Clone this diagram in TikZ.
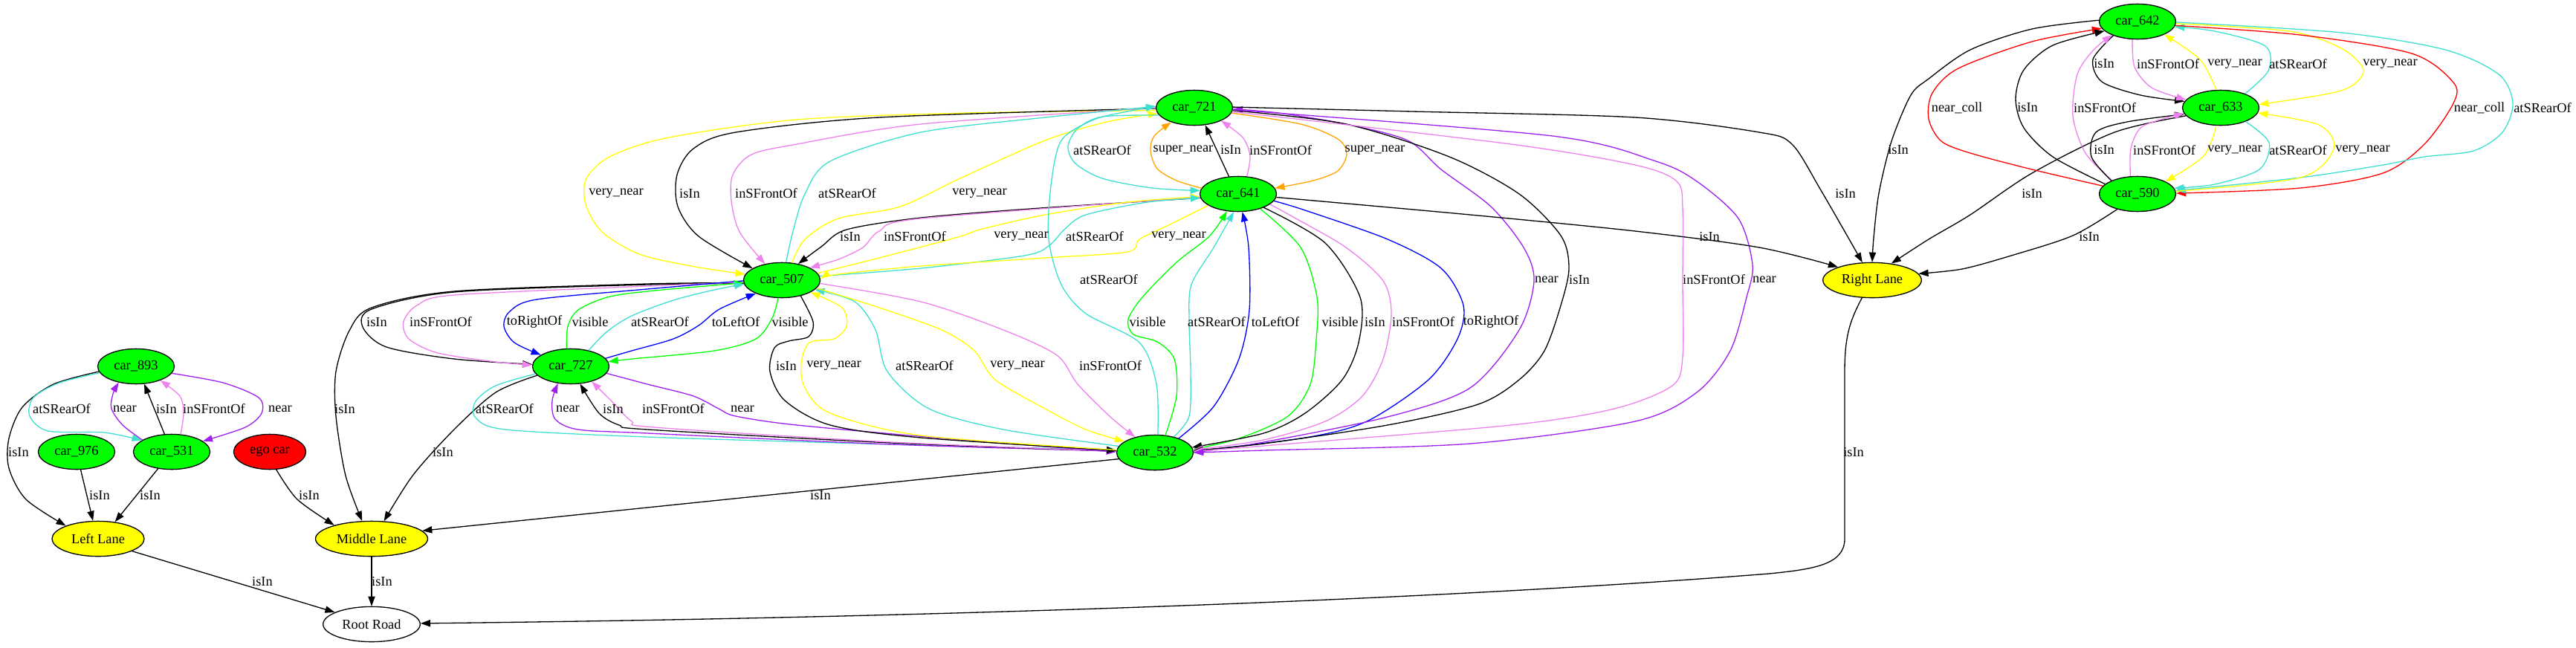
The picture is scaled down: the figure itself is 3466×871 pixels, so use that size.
\documentclass[tikz,border=0pt]{standalone}
\usepackage{fontspec}
\setmainfont{Liberation Serif}
\usetikzlibrary{shapes.geometric, arrows.meta}
\definecolor{gvgreen}{HTML}{00FF00}
\definecolor{gvyellow}{HTML}{FFFF00}
\definecolor{gvred}{HTML}{FF0000}
\definecolor{cturq}{HTML}{40E0D0}
\definecolor{cviol}{HTML}{EE82EE}
\definecolor{cpurp}{HTML}{A020F0}
\definecolor{corang}{HTML}{FFA500}
\definecolor{cblue}{HTML}{0000FF}
\tikzset{
  gvnode/.style={ellipse, draw=black, line width=1pt, minimum height=36pt, inner sep=0pt, font=\fontsize{14pt}{16pt}\selectfont},
  car/.style={gvnode, fill=gvgreen, minimum width=78.5pt},
  lane/.style={gvnode, fill=gvyellow},
  lbl/.style={inner sep=0pt, font=\fontsize{14pt}{16pt}\selectfont},
  edg/.style={line width=1pt, -{Triangle[length=10pt,width=7pt]}},
  ekk/.style={edg, color=black},
  etq/.style={edg, color=cturq},
  evi/.style={edg, color=cviol},
  epu/.style={edg, color=cpurp},
  eye/.style={edg, color=gvyellow},
  eor/.style={edg, color=corang},
  ebl/.style={edg, color=cblue},
  egr/.style={edg, color=gvgreen},
  ere/.style={edg, color=gvred},
}
\begin{document}
\begin{tikzpicture}[x=0.762pt, y=-0.762pt]
\useasboundingbox (0,0) rectangle (3466,871);
% nodes
\node[car] (c893) at (183,493) {car\_893};
\node[car] (c976) at (103,608) {car\_976};
\node[car] (c531) at (231,608) {car\_531};
\node[car, fill=gvred, minimum width=74pt] (ego) at (363,608) {ego car};
\node[lane, minimum width=94.5pt] (LL) at (132,725) {Left Lane};
\node[lane, minimum width=115pt] (ML) at (500,725) {Middle Lane};
\node[lane, fill=white, minimum width=99.5pt] (RR) at (500,840) {Root Road};
\node[car] (c727) at (768,493) {car\_727};
\node[car] (c507) at (1052,377) {car\_507};
\node[car] (c721) at (1607,145) {car\_721};
\node[car] (c641) at (1666,261) {car\_641};
\node[car] (c532) at (1554,609) {car\_532};
\node[lane, minimum width=101pt] (RL) at (2519,377) {Right Lane};
\node[car] (c642) at (2876,29) {car\_642};
\node[car] (c633) at (2988,145) {car\_633};
\node[car] (c590) at (2876,261) {car\_590};

% left cluster
\draw[ekk] plot[smooth] coordinates {(c893.188) (72,517) (30,548) (12,590) (12,630) (35,672) (LL.158)};
\draw[ekk] (c976.283) -- (LL.106);
\draw[ekk] (c531.231) -- (LL.45);
\draw[ekk] (c531.112) -- (c893.295);
\draw[epu] plot[smooth] coordinates {(c531.158) (165,572) (150,550) (152,530) (c893.223)};
\draw[evi] plot[smooth] coordinates {(c531.63) (247,556) (242,533) (c893.330)};
\draw[etq] plot[smooth] coordinates {(c893.190) (80,515) (45,535) (40,560) (65,580) (140,582) (c531.159)};
\draw[epu] plot[smooth] coordinates {(c893.349) (300,515) (348,535) (352,556) (330,575) (c531.19)};
\draw[ekk] plot[smooth] coordinates {(ego.290) (400,672) (ML.160)};

% into Middle Lane
\draw[ekk] plot[smooth] coordinates {(c507.184) (871,382) (611,392) (500,414) (470,445) (452,500) (452,560) (465,640) (ML.118)};
\draw[ekk] plot[smooth] coordinates {(c727.195) (667,528) (611,578) (556,639) (ML.55)};
\draw[ekk] (c532.190) -- (ML.9);

% into Root Road
\draw[ekk] (LL.340) -- (RR.162);
\draw[ekk] (ML.270) -- (RR.90);
\draw[ekk] (RL.240) .. controls (2490,430) and (2482,450) .. (2482,500) -- (2482,725)
  .. controls (2482,760) and (2440,766) .. (2380,772)
  .. controls (1900,810) and (1200,832) .. (RR.1);

% car_507 <-> car_727
\draw[ekk] plot[smooth] coordinates {(c507.185) (871,383) (611,393) (500,416) (488,440) (520,467) (611,483) (c727.177)};
\draw[evi] plot[smooth] coordinates {(c507.183) (871,385) (611,397) (561,411) (543,433) (550,456) (589,475) (667,487) (c727.178)};
\draw[ebl] plot[smooth] coordinates {(c507.181) (871,389) (722,403) (686,419) (678,439) (692,461) (c727.159)};
\draw[egr] plot[smooth] coordinates {(c727.103) (764,439) (778,417) (817,400) (871,392) (c507.184)};
\draw[etq] plot[smooth] coordinates {(c727.42) (817,446) (850,425) (906,404) (961,390) (c507.186)};
\draw[ebl] plot[smooth] coordinates {(c727.13) (850,472) (906,456) (940,438) (968,416) (c507.207)};
\draw[egr] plot[smooth] coordinates {(c507.258) (1039,428) (1017,456) (961,472) (850,483) (c727.7)};

% car_727 <-> car_532
\draw[etq] plot[smooth] coordinates {(c727.192) (667,519) (640,540) (640,562) (680,578) (871,588) (1200,598) (c532.176)};
\draw[epu] plot[smooth] coordinates {(c532.178) (1200,598) (871,583) (778,578) (747,564) (743,539) (c727.233)};
\draw[ekk] plot[smooth] coordinates {(c532.178) (1200,596) (871,578) (833,572) (806,556) (c727.298)};
\draw[evi] plot[smooth] coordinates {(c532.178) (1200,595) (880,575) (850,567) (822,539) (c727.324)};
\draw[epu] plot[smooth] coordinates {(c727.349) (871,517) (933,533) (967,550) (990,560) (1072,572) (1294,592) (c532.179)};

% car_507 <-> car_532
\draw[ekk] plot[smooth] coordinates {(c507.320) (1094,433) (1088,453) (1061,459) (1042,468) (1036,500) (1056,539) (1117,572) (1239,589) (c532.177)};
\draw[eye] plot[smooth] coordinates {(c532.176) (1239,586) (1117,556) (1083,522) (1078,489) (1089,461) (1122,456) (1139,439) (1133,414) (c507.337)};
\draw[etq] plot[smooth] coordinates {(c532.170) (1350,578) (1250,550) (1194,500) (1178,444) (1150,406) (c507.344)};
\draw[eye] plot[smooth] coordinates {(c507.347) (1183,414) (1267,444) (1311,472) (1339,511) (1406,550) (1461,578) (c532.160)};
\draw[evi] plot[smooth] coordinates {(c507.355) (1239,406) (1350,444) (1422,478) (1450,517) (1494,561) (c532.142)};

% car_721 <-> car_507
\draw[eye] plot[smooth] coordinates {(c721.184) (1300,152) (1072,161) (900,185) (822,210) (789,240) (788,275) (810,312) (860,342) (930,358) (c507.171)};
\draw[ekk] plot[smooth] coordinates {(c721.181) (1183,158) (990,178) (933,200) (911,235) (912,278) (940,318) (c507.158)};
\draw[evi] plot[smooth] coordinates {(c721.180) (1239,167) (1072,194) (1011,208) (986,235) (984,270) (995,312) (c507.136)};
\draw[etq] plot[smooth] coordinates {(c507.77) (1067,311) (1083,261) (1117,217) (1239,178) (1406,158) (c721.178)};
\draw[eye] plot[smooth] coordinates {(c507.60) (1083,322) (1128,294) (1211,278) (1294,239) (1406,189) (1489,164) (c721.189)};

% car_641 <-> car_507
\draw[ekk] plot[smooth] coordinates {(c641.186) (1400,280) (1239,293) (1139,309) (1105,332) (c507.45)};
\draw[evi] plot[smooth] coordinates {(c641.185) (1239,294) (1183,311) (1161,333) (1128,349) (c507.24)};
\draw[eye] plot[smooth] coordinates {(c507.11) (1183,347) (1289,319) (1322,308) (1406,289) (1517,272) (c641.184)};
\draw[etq] plot[smooth] coordinates {(c507.6) (1239,361) (1378,344) (1411,331) (1433,308) (1461,289) (1544,272) (c641.186)};
\draw[eye] plot[smooth] coordinates {(c641.201) (1572,303) (1533,322) (1517,339) (1406,347) (1239,358) (1128,369) (c507.2)};

% car_721 <-> car_641
\draw[etq] plot[smooth] coordinates {(c721.192) (1483,157) (1450,173) (1437,197) (1447,220) (1483,240) (1550,253) (c641.175)};
\draw[eor] plot[smooth] coordinates {(c641.171) (1583,243) (1557,227) (1548,203) (1553,183) (c721.212)};
\draw[ekk] (c641.118) -- (c721.302);
\draw[evi] plot[smooth] coordinates {(c641.64) (1682,210) (1672,185) (c721.334)};
\draw[eor] plot[smooth] coordinates {(c721.352) (1750,167) (1800,187) (1812,207) (1800,230) (1767,243) (c641.9)};

% car_532 -> car_721
\draw[etq] plot[smooth] coordinates {(c532.81) (1556,517) (1533,461) (1461,422) (1428,383) (1411,322) (1414,250) (1428,189) (1472,161) (1517,150) (c721.178)};

% car_532 <-> car_641
\draw[egr] plot[smooth] coordinates {(c532.59) (1583,533) (1580,483) (1557,460) (1525,450) (1518,430) (1537,400) (1583,353) (1627,318) (c641.237)};
\draw[etq] plot[smooth] coordinates {(c532.40) (1600,560) (1602,500) (1600,433) (1603,383) (1633,333) (c641.256)};
\draw[ebl] plot[smooth] coordinates {(c532.31) (1633,547) (1667,483) (1681,417) (1680,333) (c641.283)};
\draw[egr] plot[smooth] coordinates {(c641.326) (1750,333) (1772,400) (1771,457) (1763,517) (1733,560) (1667,590) (c532.5)};
\draw[ekk] plot[smooth] coordinates {(c641.332) (1783,327) (1830,400) (1828,461) (1806,511) (1756,556) (1700,583) (c532.8)};
\draw[evi] plot[smooth] coordinates {(c641.342) (1740,292) (1811,333) (1861,378) (1872,422) (1861,483) (1833,533) (1783,567) (1700,592) (c532.4)};
\draw[ebl] plot[smooth] coordinates {(c641.349) (1756,283) (1867,322) (1939,361) (1969,411) (1961,456) (1922,511) (1839,567) (1756,589) (c532.2)};

% car_721 <-> car_532 (right side)
\draw[epu] plot[smooth] coordinates {(c532.0) (1700,595) (1867,561) (1978,522) (2044,444) (2064,378) (2050,333) (2006,278) (1939,228) (1894,189) (1811,167) (1720,152) (c721.358)};
\draw[ekk] plot[smooth] coordinates {(c721.356) (1811,167) (1950,211) (2044,261) (2100,317) (2111,361) (2100,411) (2078,472) (2044,511) (1989,544) (1867,572) (1700,597) (c532.3)};
\draw[evi] plot[smooth] coordinates {(c721.354) (2033,194) (2200,222) (2256,244) (2264,280) (2264,380) (2264,480) (2250,519) (2172,550) (2033,572) (1700,600) (c532.2)};
\draw[epu] plot[smooth] coordinates {(c721.357) (2089,183) (2228,217) (2283,244) (2339,294) (2358,356) (2350,400) (2328,472) (2283,528) (2200,567) (1978,597) (1700,606) (c532.0)};

% into Right Lane
\draw[ekk] plot[smooth] coordinates {(c721.1) (1900,150) (2200,158) (2367,178) (2411,194) (2450,256) (RL.119)};
\draw[ekk] plot[smooth] coordinates {(c641.355) (1978,289) (2200,311) (2367,333) (RL.159)};
\draw[ekk] plot[smooth] coordinates {(c642.178) (2734,39) (2651,67) (2595,106) (2571,128) (2545,190) (2528,260) (2521,320) (RL.90)};
\draw[ekk] plot[smooth] coordinates {(c633.193) (2845,178) (2734,233) (2651,289) (2595,322) (RL.41)};
\draw[ekk] plot[smooth] coordinates {(c590.217) (2789,317) (2706,344) (2640,362) (RL.8)};

% right cluster
\draw[ekk] plot[smooth] coordinates {(c642.210) (2816,80) (2828,110) (2880,128) (c633.170)};
\draw[evi] plot[smooth] coordinates {(c642.254) (2872,90) (2895,118) (c633.167)};
\draw[eye] plot[smooth] coordinates {(c633.104) (2960,80) (c642.334)};
\draw[etq] plot[smooth] coordinates {(c633.30) (3052,95) (3048,62) (2980,42) (c642.352)};
\draw[eye] plot[smooth] coordinates {(c642.357) (3080,42) (3150,65) (3180,95) (3150,122) (c633.5)};
\draw[ere] plot[smooth] coordinates {(c590.167) (2734,228) (2651,206) (2612,190) (2595,160) (2600,125) (2635,92) (2734,56) (c642.191)};
\draw[ere] plot[smooth] coordinates {(c642.354) (3095,47) (3245,72) (3301,111) (3301,139) (3262,194) (3206,233) (3095,253) (c590.1)};
\draw[ekk] plot[smooth] coordinates {(c590.163) (2762,211) (2723,172) (2712,133) (2723,94) (2762,61) (c642.196)};
\draw[evi] plot[smooth] coordinates {(c590.152) (2806,206) (2789,156) (2795,100) (2817,67) (c642.208)};
\draw[etq] plot[smooth] coordinates {(c642.359) (3151,44) (3290,67) (3362,100) (3381,139) (3367,178) (3328,203) (3262,211) (3206,222) (3095,239) (c590.5)};
\draw[ekk] plot[smooth] coordinates {(c590.153) (2814,211) (2820,178) (2862,164) (c633.190)};
\draw[evi] plot[smooth] coordinates {(c590.112) (2867,200) (2880,172) (2910,160) (c633.189)};
\draw[eye] plot[smooth] coordinates {(c633.256) (2965,210) (c590.24)};
\draw[etq] plot[smooth] coordinates {(c633.331) (3053,192) (3040,228) (2980,248) (c590.9)};
\draw[eye] plot[smooth] coordinates {(c590.4) (3095,239) (3140,200) (3120,168) (c633.352)};

% labels
\node[lbl] (l01) at (25,608) {isIn};
\node[lbl] (l02) at (134,666) {isIn};
\node[lbl] (l03) at (202,666) {isIn};
\node[lbl] (l04) at (224,550) {isIn};
\node[lbl] (l05) at (168,550) {near};
\node[lbl] (l06) at (288,550) {inSFrontOf};
\node[lbl] (l07) at (83,550) {atSRearOf};
\node[lbl] (l08) at (377,550) {near};
\node[lbl] (l09) at (416,666) {isIn};
\node[lbl] (l10) at (464,550) {isIn};
\node[lbl] (l11) at (596,608) {isIn};
\node[lbl] (l12) at (1104,666) {isIn};
\node[lbl] (l13) at (353,782) {isIn};
\node[lbl] (l14) at (514,782) {isIn};
\node[lbl] (l15) at (2494,608) {isIn};
% row 433
\node[lbl] (l16) at (507,433) {isIn};
\node[lbl] (l17) at (593,433) {inSFrontOf};
\node[lbl] (l18) at (719,433) {toRightOf};
\node[lbl] (l19) at (794,433) {visible};
\node[lbl] (l20) at (888,433) {atSRearOf};
\node[lbl] (l21) at (990,433) {toLeftOf};
\node[lbl] (l22) at (1063,433) {visible};
\node[lbl] (l23) at (1544,433) {visible};
\node[lbl] (l24) at (1637,433) {atSRearOf};
\node[lbl] (l25) at (1716,433) {toLeftOf};
\node[lbl] (l26) at (1803,433) {visible};
\node[lbl] (l27) at (1850,433) {isIn};
\node[lbl] (l28) at (1915,433) {inSFrontOf};
\node[lbl] (l29) at (2006,433) {toRightOf};
% row 550
\node[lbl] (l30) at (679,550) {atSRearOf};
\node[lbl] (l31) at (764,550) {near};
\node[lbl] (l32) at (825,550) {isIn};
\node[lbl] (l33) at (906,550) {inSFrontOf};
\node[lbl] (l34) at (999,550) {near};
% row 492
\node[lbl] (l35) at (1058,492) {isIn};
\node[lbl] (l36) at (1122,492) {very\_near};
\node[lbl] (l37) at (1244,492) {atSRearOf};
\node[lbl] (l38) at (1369,492) {very\_near};
\node[lbl] (l39) at (1494,492) {inSFrontOf};
% row 376
\node[lbl] (l40) at (1492,376) {atSRearOf};
\node[lbl] (l41) at (2081,376) {near};
\node[lbl] (l42) at (2125,376) {isIn};
\node[lbl] (l43) at (2306,376) {inSFrontOf};
\node[lbl] (l44) at (2374,376) {near};
% row 260
\node[lbl] (l45) at (829,260) {very\_near};
\node[lbl] (l46) at (928,260) {isIn};
\node[lbl] (l47) at (1031,260) {inSFrontOf};
\node[lbl] (l48) at (1140,260) {atSRearOf};
\node[lbl] (l49) at (1318,260) {very\_near};
\node[lbl] (l50) at (2483,260) {isIn};
\node[lbl] (l51) at (2734,260) {isIn};
% row 318
\node[lbl] (l52) at (1144,318) {isIn};
\node[lbl] (l53) at (1231,318) {inSFrontOf};
\node[lbl] (l54) at (1374,318) {very\_near};
\node[lbl] (l55) at (1473,318) {atSRearOf};
\node[lbl] (l56) at (1586,318) {very\_near};
\node[lbl] (l57) at (2300,318) {isIn};
\node[lbl] (l58) at (2811,318) {isIn};
% row 202
\node[lbl] (l59) at (1483,202) {atSRearOf};
\node[lbl] (l60) at (1592,202) {super\_near};
\node[lbl] (l61) at (1656,202) {isIn};
\node[lbl] (l62) at (1723,202) {inSFrontOf};
\node[lbl] (l63) at (1850,202) {super\_near};
\node[lbl] (l64) at (2554,202) {isIn};
\node[lbl] (l65) at (2831,202) {isIn};
\node[lbl] (l66) at (2912,202) {inSFrontOf};
\node[lbl] (l67) at (3007,202) {very\_near};
\node[lbl] (l68) at (3092,202) {atSRearOf};
\node[lbl] (l69) at (3179,202) {very\_near};
% row 145
\node[lbl] (l70) at (2633,145) {near\_coll};
\node[lbl] (l71) at (2728,145) {isIn};
\node[lbl] (l72) at (2832,145) {inSFrontOf};
\node[lbl] (l73) at (3336,145) {near\_coll};
\node[lbl] (l74) at (3421,145) {atSRearOf};
% row 86
\node[lbl] (l75) at (2831,86) {isIn};
\node[lbl] (l76) at (2917,86) {inSFrontOf};
\node[lbl] (l77) at (3007,86) {very\_near};
\node[lbl] (l78) at (3092,86) {atSRearOf};
\node[lbl] (l79) at (3216,86) {very\_near};
\end{tikzpicture}
\end{document}
